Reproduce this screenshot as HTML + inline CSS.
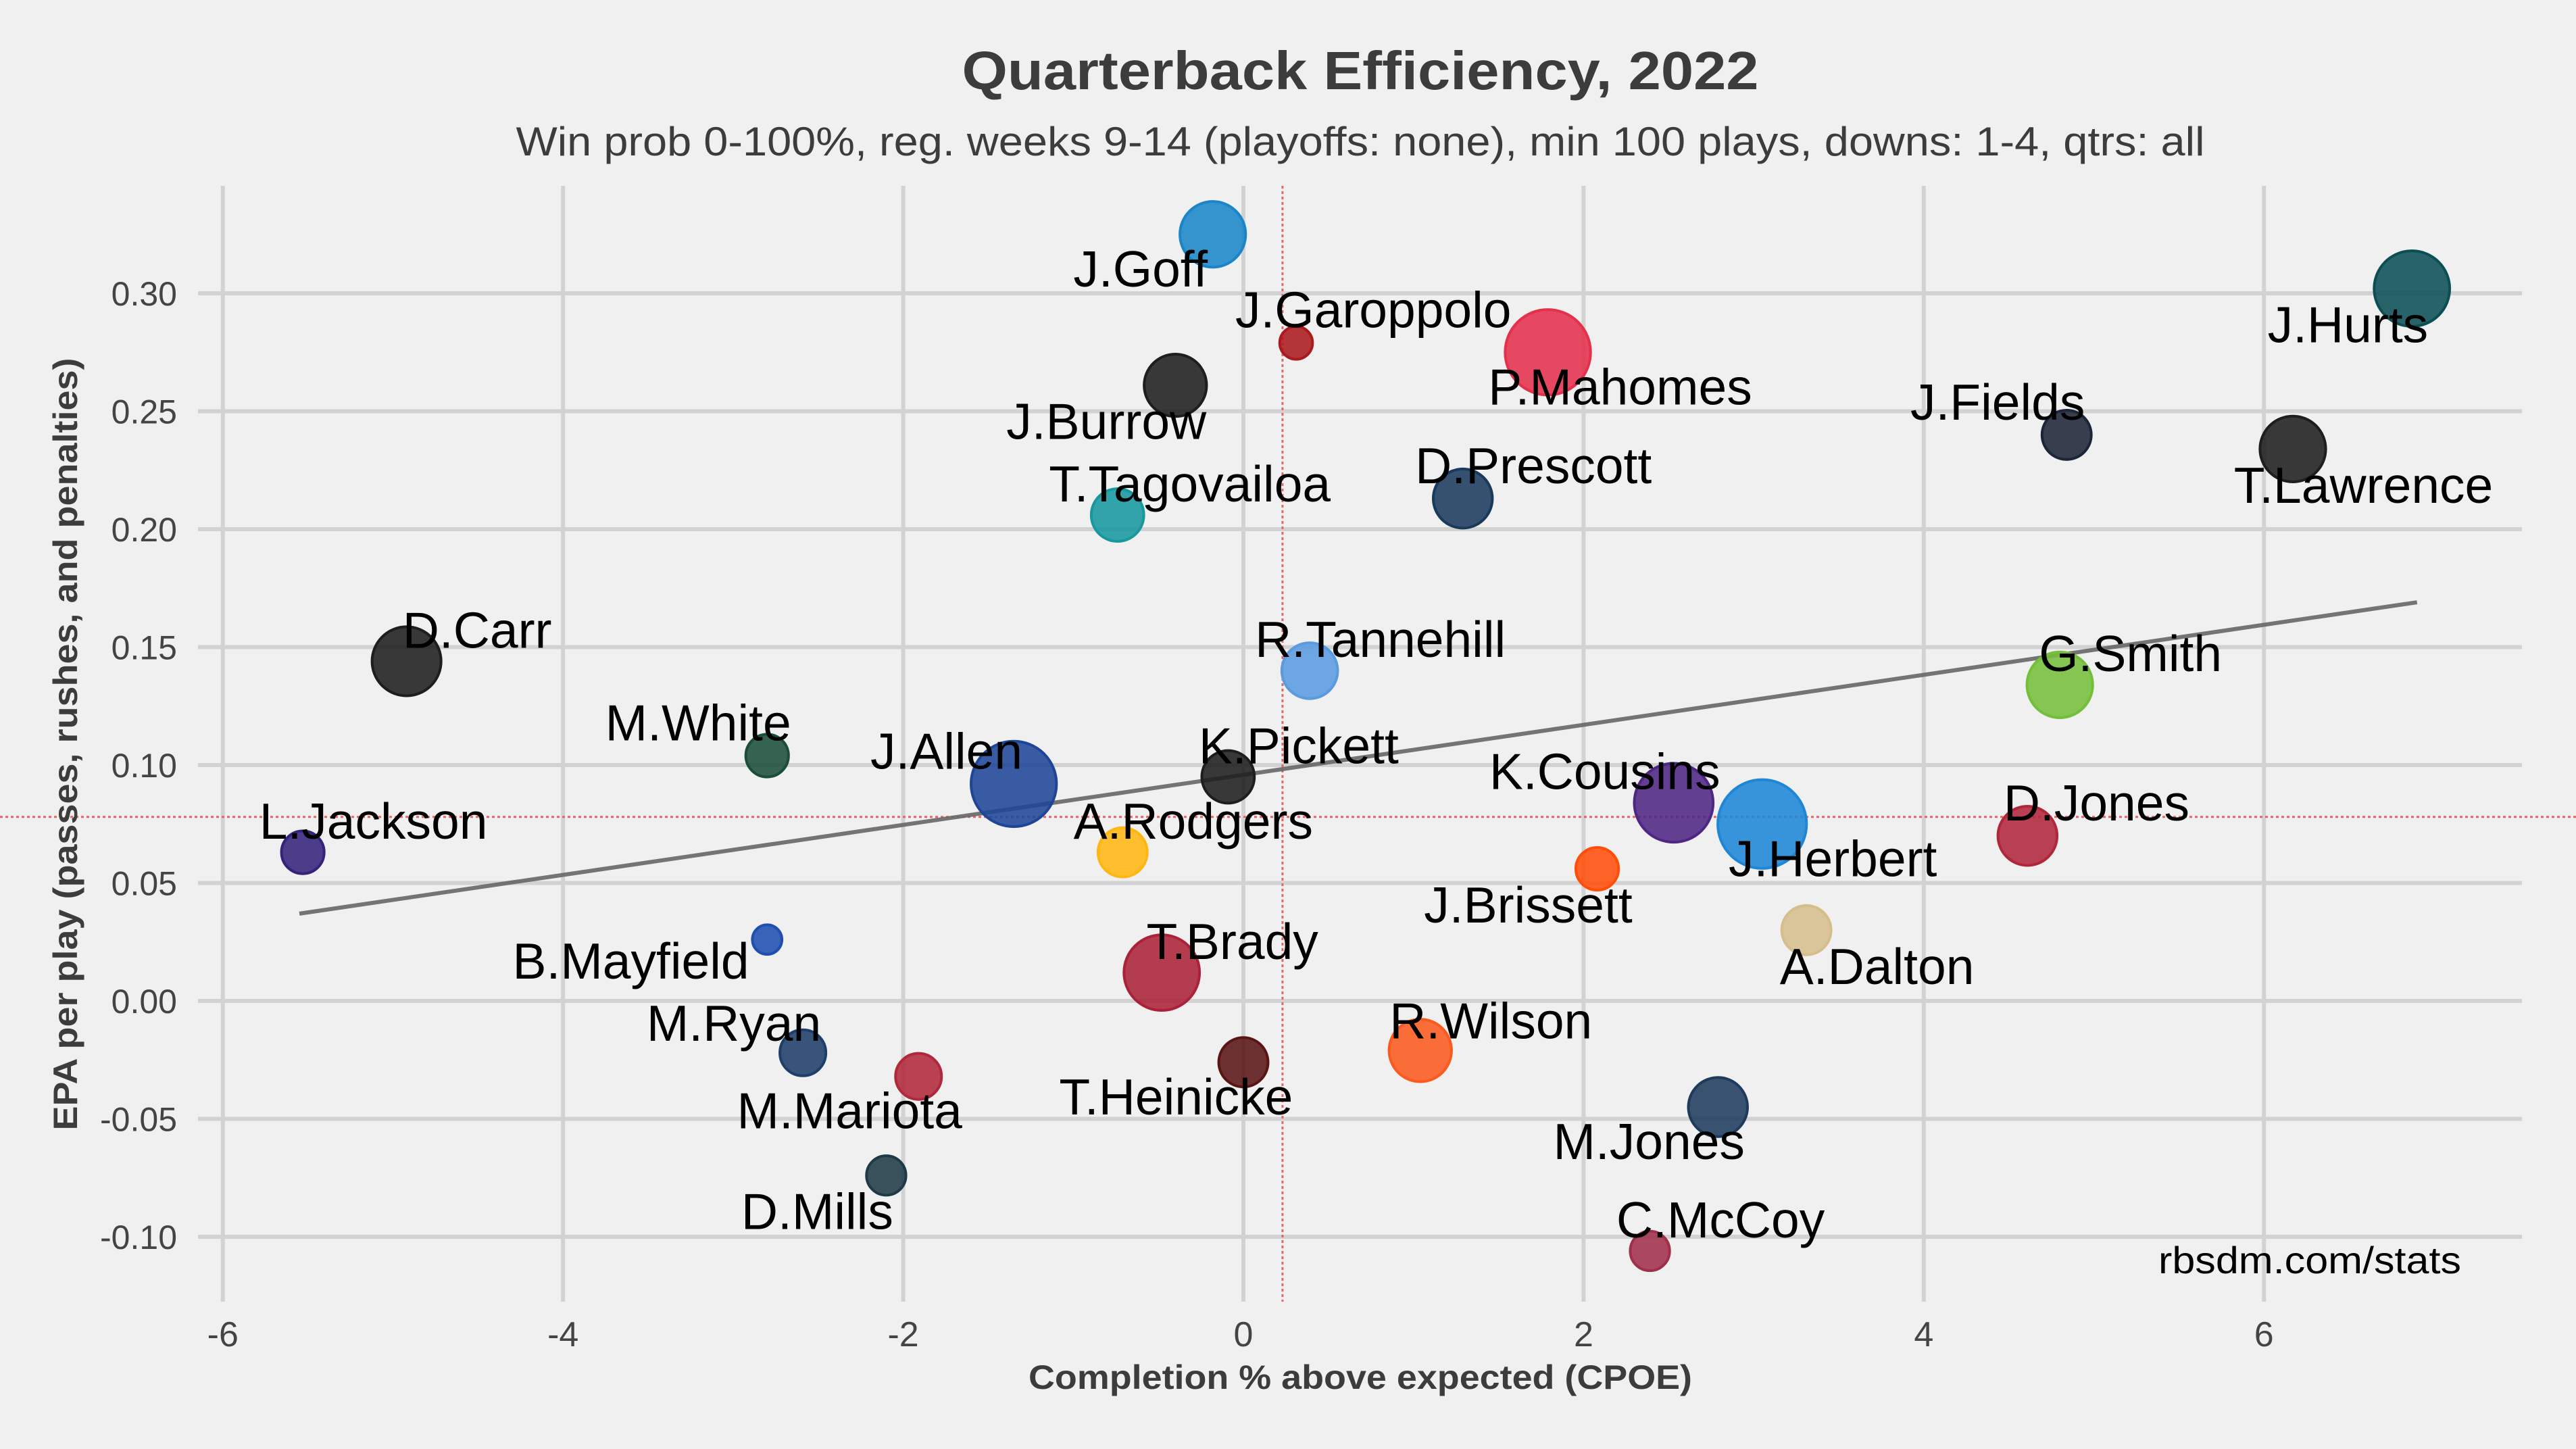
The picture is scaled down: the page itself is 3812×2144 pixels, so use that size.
<!DOCTYPE html>
<html><head><meta charset="utf-8"><style>
html,body{margin:0;padding:0;background:#f0f0f0;}
svg{display:block;font-family:"Liberation Sans",Arial,sans-serif;}
</style></head><body>
<svg id="chart" width="3812" height="2144" viewBox="0 0 3812 2144" xmlns="http://www.w3.org/2000/svg">
<rect width="3812" height="2144" fill="#f0f0f0"/>
<g id="grid"></g>
<g id="refs"></g>
<g id="points"></g>
<g id="labels"></g>
<g id="ticks"></g>
<text x="2013" y="132" text-anchor="middle" font-size="80" font-weight="bold" fill="#3c3c3c" textLength="1179" lengthAdjust="spacingAndGlyphs">Quarterback Efficiency, 2022</text>
<text x="2013" y="230" text-anchor="middle" font-size="60" fill="#3c3c3c" textLength="2499" lengthAdjust="spacingAndGlyphs">Win prob 0-100%, reg. weeks 9-14 (playoffs: none), min 100 plays, downs: 1-4, qtrs: all</text>
<text x="2013" y="2055" text-anchor="middle" font-size="50" font-weight="bold" fill="#3c3c3c" textLength="982" lengthAdjust="spacingAndGlyphs">Completion % above expected (CPOE)</text>
<text transform="translate(114,1101) rotate(-90)" text-anchor="middle" font-size="50" font-weight="bold" fill="#3c3c3c" textLength="1143" lengthAdjust="spacingAndGlyphs">EPA per play (passes, rushes, and penalties)</text>
<text x="3642" y="1884" text-anchor="end" font-size="56" fill="#000" textLength="448" lengthAdjust="spacingAndGlyphs">rbsdm.com/stats</text>
</svg>
<script>
const names=["J.Goff","J.Garoppolo","P.Mahomes","J.Burrow","J.Hurts","J.Fields","T.Lawrence","D.Prescott","T.Tagovailoa","D.Carr","R.Tannehill","G.Smith","M.White","J.Allen","K.Pickett","K.Cousins","J.Herbert","D.Jones","L.Jackson","A.Rodgers","J.Brissett","A.Dalton","B.Mayfield","T.Brady","R.Wilson","M.Ryan","T.Heinicke","M.Mariota","M.Jones","D.Mills","C.McCoy"];
const cpoe=[-0.18,0.31,1.79,-0.40,6.87,4.84,6.17,1.29,-0.74,-4.92,0.39,4.80,-2.80,-1.35,-0.09,2.53,3.05,4.61,-5.53,-0.71,2.08,3.31,-2.80,-0.48,1.04,-2.59,0.00,-1.91,2.79,-2.10,2.39];
const epa=[0.325,0.279,0.275,0.261,0.302,0.240,0.234,0.213,0.206,0.144,0.140,0.134,0.104,0.092,0.095,0.084,0.075,0.070,0.063,0.063,0.056,0.030,0.026,0.012,-0.021,-0.022,-0.026,-0.032,-0.045,-0.074,-0.106];
const sizes=[20,10,26,19,23,15,20,18,16,21,17,20,13,26,16,24,27,18,13,15,13,15,9,23,19,14,15,14,18,12,12];
const colors=["#1a86c8","#aa1a1e","#e5304c","#1e1e1e","#0b4f55","#1d2538","#1e1e1e","#1a3a5c","#17979e","#1e1e1e","#5a9be0","#74bf3a","#1b4e38","#1e4597","#1e1e1e","#4f2683","#1e86d6","#b0263b","#33237a","#ffb612","#ff4d0a","#d6bd8c","#1f4fb0","#ab2238","#fb5a1e","#1f3e6a","#5a1414","#b0283b","#1f3b5c","#1f3a46","#a0304a"];
const labelDx=[-44,47,44,-42,-39,-42,43,43,44,43,43,43,-42,-41,43,-42,43,42,43,43,-42,43,-83,43,43,-42,-41,-42,-42,-42,43];
const labelDy=[21,-20,21,22,22,-20,22,-20,-19,-19,-19,-19,-20,-20,-19,-19,21,-20,-19,-19,22,22,13,-19,-18,-18,21,21,21,22,-19];
const xTicks=[-6,-4,-2,0,2,4,6];
const yTicks=[0.30,0.25,0.20,0.15,0.10,0.05,0.00,-0.05,-0.10];
const yTickLabels=["0.30","0.25","0.20","0.15","0.10","0.05","0.00","-0.05","-0.10"];
const meanX=0.23, meanY=0.078;
const trend=[[-5.55,0.037],[6.9,0.169]];

const X0=1840, XS=251.7, Y0=1481, YS=3490;
const sx=v=>X0+v*XS, sy=v=>Y0-v*YS;
const L=293, R=3732, T=275, B=1926;
const NS="http://www.w3.org/2000/svg";
function mk(tag,attrs,parent){const e=document.createElementNS(NS,tag);for(const k in attrs)e.setAttribute(k,attrs[k]);parent.appendChild(e);return e;}
const grid=document.getElementById('grid'),ticks=document.getElementById('ticks');
xTicks.forEach(t=>{
  const l=mk('line',{x1:sx(t),x2:sx(t),y1:T,y2:B,stroke:'#d2d2d2','stroke-width':6},grid);
  
  
  const tx=mk('text',{x:sx(t),y:1992,'text-anchor':'middle','font-size':52,fill:'#444'},ticks);
  tx.textContent=String(t);
  
  
});
yTicks.forEach((t,i)=>{
  const l=mk('line',{x1:L,x2:R,y1:sy(t),y2:sy(t),stroke:'#d2d2d2','stroke-width':6},grid);
  
  
  const tx=mk('text',{x:262,y:sy(t)+18,'text-anchor':'end','font-size':50,fill:'#444'},ticks);
  tx.textContent=yTickLabels[i];
  
  
});
const refs=document.getElementById('refs');
const hl=mk('line',{x1:0,x2:3812,y1:sy(meanY),y2:sy(meanY),stroke:'#e86464','stroke-width':3,'stroke-dasharray':'4 4'},refs);


const vl=mk('line',{x1:sx(meanX),x2:sx(meanX),y1:T,y2:B,stroke:'#e86464','stroke-width':3,'stroke-dasharray':'4 4'},refs);


const tl=mk('line',{x1:sx(trend[0][0]),y1:sy(trend[0][1]),x2:sx(trend[1][0]),y2:sy(trend[1][1]),stroke:'#666','stroke-width':6,'stroke-opacity':0.9},refs);


const pts=document.getElementById('points'),lbs=document.getElementById('labels');
names.forEach((n,i)=>{
  const cx=sx(cpoe[i]),cy=sy(epa[i]);
  const c=mk('circle',{cx:cx,cy:cy,r:sizes[i]*2.43,fill:colors[i],'fill-opacity':0.88,stroke:colors[i],'stroke-width':4},pts);
  
  
  const t=mk('text',{x:cx+labelDx[i]*2.43,y:cy+labelDy[i]*2.43+26,'text-anchor':'middle','font-size':75,fill:'#000'},lbs);
  t.textContent=n;
  
  
});
</script>
</body></html>
